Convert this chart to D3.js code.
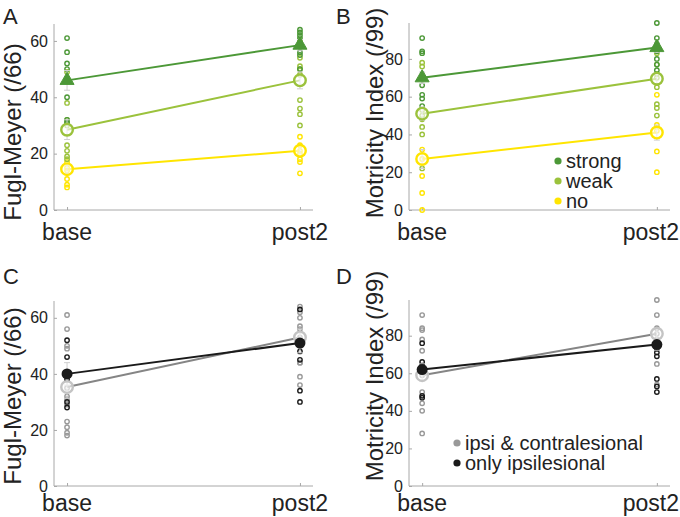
<!DOCTYPE html>
<html><head><meta charset="utf-8">
<script src="https://cdn.jsdelivr.net/npm/d3@7"></script>
<style>body{margin:0;background:#fff}svg{display:block}text{font-family:"Liberation Sans",Arial,sans-serif;fill:#222}</style>
</head><body><svg id="c" width="680" height="517"></svg>
<script>
// ---- data ----
const categories = ["base", "post2"];
const fmTicks = [0, 20, 40, 60];
const miTicks = [0, 20, 40, 60, 80];

// Panel A: Fugl-Meyer by MEP group
const fmStrongBase = [61, 56, 52, 50, 40, 32, 31];
const fmStrongPost = [64, 63, 62, 61, 56, 55, 50];
const fmWeakBase = [49, 38, 32, 31, 30, 23, 21, 19, 18];
const fmWeakPost = [60, 54, 51, 50, 48, 39, 36, 34, 30];
const fmNoBase = [17, 15, 14, 11, 9, 8];
const fmNoPost = [26, 23, 21, 20, 18, 17, 13];
const fmStrongMean = [46, 58.5], fmWeakMean = [28.5, 46], fmNoMean = [14.5, 21];
const fmStrongSem = [3.5, 2], fmWeakSem = [3.5, 3], fmNoSem = [1.5, 2];

// Panel B: Motricity Index by MEP group
const miStrongBase = [91, 84, 83, 66, 61, 59, 55];
const miStrongPost = [99, 91, 88, 84, 80, 77, 74];
const miWeakBase = [78, 76, 53, 50, 48, 44, 40, 22];
const miWeakPost = [83, 77, 72, 70, 65, 56, 54, 50];
const miNoBase = [32, 27, 18, 9, 0];
const miNoPost = [61, 45, 42, 31, 20];
const miStrongMean = [70, 86], miWeakMean = [51, 69.5], miNoMean = [27, 41];
const miStrongSem = [3, 2.5], miWeakSem = [3.5, 3], miNoSem = [5, 4];

// Panel C: Fugl-Meyer by laterality
const fmBiBase = [61, 56, 50, 49, 35, 32, 31, 29, 23, 21, 19, 18];
const fmBiPost = [64, 62, 60, 57, 56, 53, 50, 44, 44, 39, 36];
const fmIpsiBase = [52, 46, 40, 38, 30, 28];
const fmIpsiPost = [63, 51, 48, 45, 34, 30];
const fmBiMean = [35.3, 53], fmIpsiMean = [40, 51];
const fmBiSem = [4, 3], fmIpsiSem = [4, 3.5];

// Panel D: Motricity Index by laterality
const miBiBase = [91, 84, 83, 78, 72, 64, 59, 50, 44, 40, 28];
const miBiPost = [99, 91, 84, 81, 78, 65, 54];
const miIpsiBase = [76, 66, 64, 62, 48, 47];
const miIpsiPost = [75, 73, 71, 69, 57, 53, 50];
const miBiMean = [59, 81], miIpsiMean = [62, 75.3];
const miBiSem = [3, 3], miIpsiSem = [3, 3];

// ---- styling ----
const C = {strong:"#4c9837", weak:"#9bc23c", no:"#ffe500", bi:"#999999", biLine:"#858585", biMark:"#c4c4c4", ipsi:"#1a1a1a"};
const svg = d3.select("#c");

function panel(cfg){
  const g = svg.append("g");
  const x = d3.scalePoint().domain(categories).range([cfg.left, cfg.right]).padding(0.056);
  const y = d3.scaleLinear().domain([0, cfg.ymax]).range([cfg.bottom, cfg.top]);
  // axes
  const ya = g.append("g").attr("transform", `translate(${cfg.left},0)`)
    .call(d3.axisLeft(y).tickValues(cfg.ticks).tickSize(-3).tickPadding(6).tickFormat(d3.format("d")));
  const xa = g.append("g").attr("transform", `translate(0,${cfg.bottom})`)
    .call(d3.axisBottom(x).tickSize(-3).tickFormat(""));
  [ya, xa].forEach(a => { a.select(".domain").attr("stroke", "#a8a8a8");
    a.selectAll(".tick line").attr("stroke", "#a8a8a8"); });
  ya.select(".domain").attr("d", `M0,${cfg.bottom}V${cfg.top}`);
  xa.select(".domain").attr("d", `M${cfg.left},0H${cfg.right}`);
  ya.selectAll(".tick text").attr("font-size", 16).attr("fill", "#222").style("font-family", '"Liberation Sans",Arial,sans-serif');
  categories.forEach(c => {
    const t = g.append("text").attr("x", x(c)).attr("y", cfg.xlab).attr("text-anchor", "middle")
      .attr("font-size", 23).text(c);
    const w = t.node().getComputedTextLength();
    if (x(c) + w / 2 > 679) t.attr("text-anchor", "end").attr("x", 679);
  });
  g.append("text").attr("transform", `translate(${cfg.ytx},${cfg.yty}) rotate(-90)`).attr("text-anchor", "middle")
    .attr("font-size", 24).text(cfg.ytitle);
  g.append("text").attr("x", cfg.lx).attr("y", cfg.ly).attr("font-size", 22).text(cfg.letter);

  // lines of means
  const line = d3.line().x((d, i) => x(categories[i])).y(d => y(d));
  cfg.groups.forEach(s => g.append("path").attr("d", line(s.mean)).attr("fill", "none")
    .attr("stroke", s.line || s.color).attr("stroke-width", 2));
  // individual points
  cfg.groups.forEach(s => [s.base, s.post].forEach((vals, i) => {
    g.selectAll(null).data(vals).enter().append("circle")
      .attr("cx", x(categories[i])).attr("cy", d => y(d)).attr("r", 2.2)
      .attr("fill", "none").attr("stroke", s.color).attr("stroke-width", 1.4);
  }));
  // error bars
  cfg.groups.forEach(s => s.mean.forEach((m, i) => {
    const cx = x(categories[i]), e = s.sem[i];
    g.append("path").attr("d", `M${cx},${y(m - e)}V${y(m + e)}M${cx - 3},${y(m - e)}H${cx + 3}M${cx - 3},${y(m + e)}H${cx + 3}`)
      .attr("stroke", "#cfcfcf").attr("stroke-width", 1).attr("fill", "none");
  }));
  // mean markers
  cfg.groups.forEach(s => s.mean.forEach((m, i) => {
    const cx = x(categories[i]), cy = y(m);
    if (s.marker === "tri") {
      g.append("path").attr("d", d3.symbol().type(d3.symbolTriangle).size(85)())
        .attr("transform", `translate(${cx},${cy})`).attr("fill", s.color).attr("stroke", s.color).attr("stroke-width", 1);
    } else if (s.marker === "filled") {
      g.append("circle").attr("cx", cx).attr("cy", cy).attr("r", 5.5).attr("fill", s.color);
    } else {
      g.append("circle").attr("cx", cx).attr("cy", cy).attr("r", 5.8).attr("fill", "rgba(255,255,255,0.6)")
        .attr("stroke", s.mark || s.color).attr("stroke-width", 2.4);
    }
  }));
  // legend
  if (cfg.legend) cfg.legend.items.forEach((it, i) => {
    const ly = cfg.legend.y + i * cfg.legend.dy;
    g.append("circle").attr("cx", cfg.legend.x).attr("cy", ly).attr("r", 3.6).attr("fill", it.color);
    g.append("text").attr("x", cfg.legend.x + 8).attr("y", ly).attr("dy", "0.35em").attr("font-size", 20).text(it.label);
  });
}

panel({letter:"A", lx:3, ly:24, left:54, right:313, top:24, bottom:210, ymax:66, ticks:fmTicks, xlab:240,
  ytitle:"Fugl-Meyer (/66)", ytx:21, yty:132,
  groups:[
    {base:fmNoBase, post:fmNoPost, mean:fmNoMean, sem:fmNoSem, color:C.no, marker:"open"},
    {base:fmWeakBase, post:fmWeakPost, mean:fmWeakMean, sem:fmWeakSem, color:C.weak, marker:"open"},
    {base:fmStrongBase, post:fmStrongPost, mean:fmStrongMean, sem:fmStrongSem, color:C.strong, marker:"tri"}]});

panel({letter:"B", lx:336, ly:24, left:409, right:670, top:23, bottom:210, ymax:99, ticks:miTicks, xlab:240,
  ytitle:"Motricity Index (/99)", ytx:383, yty:113,
  groups:[
    {base:miNoBase, post:miNoPost, mean:miNoMean, sem:miNoSem, color:C.no, marker:"open"},
    {base:miWeakBase, post:miWeakPost, mean:miWeakMean, sem:miWeakSem, color:C.weak, marker:"open"},
    {base:miStrongBase, post:miStrongPost, mean:miStrongMean, sem:miStrongSem, color:C.strong, marker:"tri"}],
  legend:{x:558, y:161, dy:20, items:[{label:"strong", color:C.strong},{label:"weak", color:C.weak},{label:"no", color:C.no}]}});

panel({letter:"C", lx:3, ly:284, left:54, right:313, top:301, bottom:486, ymax:66, ticks:fmTicks, xlab:511,
  ytitle:"Fugl-Meyer (/66)", ytx:21, yty:396,
  groups:[
    {base:fmBiBase, post:fmBiPost, mean:fmBiMean, sem:fmBiSem, color:C.bi, line:C.biLine, mark:C.biMark, marker:"open"},
    {base:fmIpsiBase, post:fmIpsiPost, mean:fmIpsiMean, sem:fmIpsiSem, color:C.ipsi, marker:"filled"}]});

panel({letter:"D", lx:336, ly:284, left:409, right:670, top:300, bottom:486, ymax:99, ticks:miTicks, xlab:511,
  ytitle:"Motricity Index (/99)", ytx:383, yty:376,
  groups:[
    {base:miBiBase, post:miBiPost, mean:miBiMean, sem:miBiSem, color:C.bi, line:C.biLine, mark:C.biMark, marker:"open"},
    {base:miIpsiBase, post:miIpsiPost, mean:miIpsiMean, sem:miIpsiSem, color:C.ipsi, marker:"filled"}],
  legend:{x:457, y:443, dy:20, items:[{label:"ipsi & contralesional", color:C.bi},{label:"only ipsilesional", color:C.ipsi}]}});
</script></body></html>
